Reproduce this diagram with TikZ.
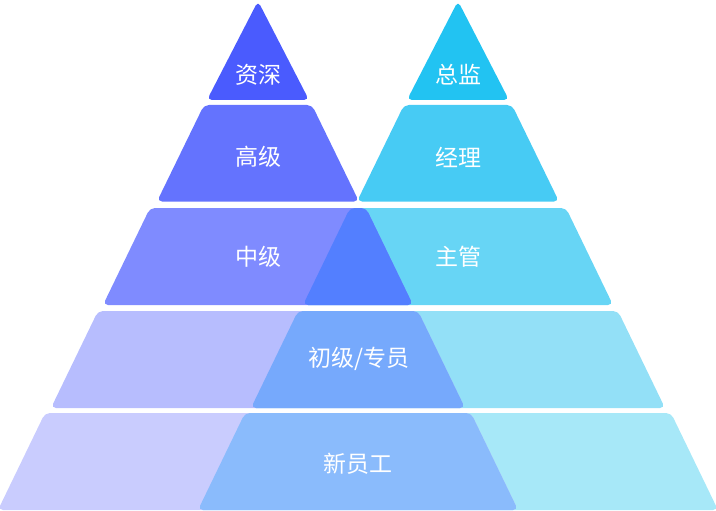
\documentclass[tikz,border=0pt]{standalone}
\usepackage{fontspec}
\newfontfamily\cjk{Noto Sans CJK SC}
\definecolor{lA}{HTML}{4A5BFE}
\definecolor{lB}{HTML}{6473FE}
\definecolor{lC}{HTML}{7F8BFF}
\definecolor{lD}{HTML}{B7BDFE}
\definecolor{lE}{HTML}{C9CCFE}
\definecolor{rA}{HTML}{22C3F2}
\definecolor{rB}{HTML}{47CBF4}
\definecolor{rC}{HTML}{67D5F5}
\definecolor{rD}{HTML}{93E0F7}
\definecolor{rE}{HTML}{A7E8F8}
\definecolor{oC}{HTML}{537FFF}
\definecolor{oD}{HTML}{76A9FC}
\definecolor{oE}{HTML}{8ABBFC}
\newcommand\bandpath[5]{(#1-#4,#2) -- (#1+#4,#2) -- (#1+#5,#3) -- (#1-#5,#3) -- cycle}
\newcommand\toppath[3]{(#1,#2) -- (#1+#3,100) -- (#1-#3,100) -- cycle}
\tikzset{
  band/.style={rounded corners=5pt},
  lbl/.style={text=white, font=\cjk\fontsize{23}{27}\selectfont, inner sep=0pt}
}
\begin{document}
\begin{tikzpicture}[x=1pt,y=-1pt]
\useasboundingbox (0,0) rectangle (716,511);
% right pyramid
\fill[band,rA] \toppath{458}{1}{51};
\fill[band,rB] \bandpath{458}{105}{201.5}{54}{101};
\fill[band,rC] \bandpath{458}{208}{305}{108}{155};
\fill[band,rD] \bandpath{458}{311}{408}{160}{207};
\fill[band,rE] \bandpath{458}{413}{510}{213}{260};
% left pyramid
\fill[band,lA] \toppath{258}{1}{51};
\fill[band,lB] \bandpath{258}{105}{201.5}{54}{101};
\fill[band,lC] \bandpath{258}{208}{305}{108}{155};
\fill[band,lD] \bandpath{258}{311}{408}{160}{207};
\fill[band,lE] \bandpath{258}{413}{510}{213}{260};
% overlaps
\begin{scope}
\clip[band] \bandpath{258}{208}{305}{108}{155};
\fill[band,oC] \bandpath{458}{208}{305}{108}{155};
\end{scope}
\begin{scope}
\clip[band] \bandpath{258}{311}{408}{160}{207};
\fill[band,oD] \bandpath{458}{311}{408}{160}{207};
\end{scope}
\begin{scope}
\clip[band] \bandpath{258}{413}{510}{213}{260};
\fill[band,oE] \bandpath{458}{413}{510}{213}{260};
\end{scope}
% labels
\node[lbl] (l1) at (258,75) {资深};
\node[lbl] (l2) at (258,157) {高级};
\node[lbl] (l3) at (258,257) {中级};
\node[lbl] (r1) at (458,75) {总监};
\node[lbl] (r2) at (458,157) {经理};
\node[lbl] (r3) at (458,257) {主管};
\node[lbl] (m4) at (359,359) {初级/专员};
\node[lbl] (m5) at (358,464) {新员工};
\end{tikzpicture}
\end{document}
